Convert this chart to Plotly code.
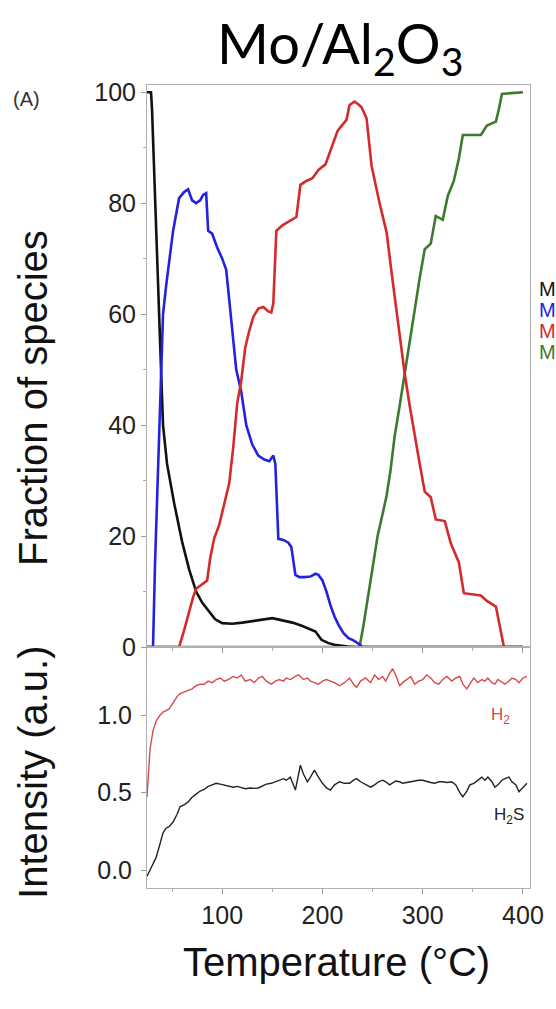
import plotly.graph_objects as go
from plotly.subplots import make_subplots

# ---- species fractions (%) vs temperature (°C) ----
t_black = [25, 29, 30, 33, 36, 39, 41, 45, 52, 60, 67, 74, 80, 87, 93, 100, 110, 120, 130, 140,
           150, 160, 170, 180, 187, 193, 199, 206, 212, 218, 225, 232, 240, 400]
v_black = [100, 100, 97, 80, 66, 50, 40, 33, 26, 19, 14, 10, 8, 6.3, 5, 4.3, 4.2, 4.4, 4.7, 5,
           5.2, 4.8, 4.4, 3.8, 3.3, 2.8, 1.3, 0.7, 0.4, 0.2, 0.1, 0, 0, 0]

t_blue = [25, 31, 33, 36, 39, 41, 44, 47, 51, 57, 62, 66, 70, 74, 78, 81, 84, 86, 90, 95,
          100, 104, 109, 114, 119, 124, 130, 136, 142, 147, 151, 153, 156, 161, 166, 169, 173,
          177, 182, 188, 193, 196, 200, 204, 208, 212, 216, 221, 226, 231, 236, 240, 400]
v_blue = [0, 0, 15, 32, 50, 60, 65, 69, 75, 80.9, 82, 82.5, 80.5, 80, 80.5, 81.5, 81.8, 75, 74.5, 72,
          70, 68, 59, 50, 46, 40, 36.5, 34.5, 33.8, 33.5, 34.5, 33, 19.5, 19.3, 18.8, 18, 13,
          12.6, 12.6, 12.7, 13.2, 13, 12, 10, 7.5, 5.5, 4, 2.5, 1.6, 1.2, 0.6, 0, 0]

t_red = [25, 57, 62, 67, 71, 74, 78, 82, 85, 88, 92, 97, 102, 107, 111, 115, 119, 123, 127, 131,
         136, 141, 146, 149, 151, 154, 160, 165, 170, 174, 178, 184, 190, 196, 203, 207, 211, 215,
         218, 224, 227, 232, 236, 239, 244, 249, 257, 264, 270, 276, 282, 287, 292, 297, 302, 308,
         313, 318, 322, 328, 336, 341, 350, 358, 364, 373, 381, 400]
v_red = [0, 0, 3, 6.5, 9, 10.5, 11, 11.5, 12, 16, 19.6, 22, 25.5, 29.5, 36, 44, 48, 54, 57, 59.5,
         61, 61.3, 60.5, 60.3, 62, 75, 76, 76.5, 77, 77.5, 83.3, 84, 84.5, 86, 87, 89, 91.3, 93,
         93.7, 95, 97.7, 98.3, 97.8, 97.3, 95.3, 86.7, 80, 74.7, 66, 57.5, 49.3, 43.5, 38, 33,
         28, 27, 23, 22.8, 22.7, 18.7, 15.3, 9.7, 9.5, 9.3, 8.3, 7.3, 0, 0]

t_green = [25, 237, 241, 245, 250, 255, 260, 264, 268, 272, 277, 282, 287, 292, 297, 302, 308,
           313, 320, 325, 331, 336, 340, 350, 358, 364, 373, 376, 379, 400]
v_green = [0, 0, 4, 8.7, 14, 20, 24, 27.3, 32, 38, 43.5, 49.3, 55, 61.3, 66.5, 71.7, 72.7,
           77.7, 77, 81.3, 84, 88, 92.3, 92.3, 92.3, 94, 94.7, 97, 99.7, 100]

# ---- gas-phase signals (a.u.) ----
t_gas = [25, 28, 31, 34, 38, 41, 44, 47, 51, 55, 58, 62, 66, 70, 74, 78, 82, 86, 90, 94,
         98, 102, 106, 111, 115, 119, 123, 128, 132, 136, 140, 144, 149, 153, 157, 161, 164,
         168, 173, 176, 178, 181, 185, 188, 192, 196, 200, 204, 208, 212, 217, 222, 227, 231,
         234, 238, 243, 248, 252, 256, 260, 263, 267, 270, 273, 277, 280, 284, 288, 292, 296,
         300, 304, 308, 312, 316, 320, 324, 329, 333, 337, 340, 344, 347, 351, 355, 359, 362,
         365, 369, 372, 375, 379, 382, 386, 389, 393, 396, 400, 404]
v_h2 = [0.47, 0.78, 0.9, 0.96, 1.0, 1.02, 1.03, 1.04, 1.08, 1.12, 1.14, 1.15, 1.16, 1.17, 1.19, 1.2,
        1.2, 1.22, 1.21, 1.23, 1.24, 1.22, 1.23, 1.25, 1.24, 1.26, 1.22, 1.23, 1.21, 1.24, 1.25,
        1.22, 1.2, 1.22, 1.23, 1.22, 1.24, 1.23, 1.25, 1.26, 1.25, 1.23, 1.24, 1.22, 1.21, 1.2,
        1.22, 1.23, 1.22, 1.21, 1.19, 1.21, 1.24, 1.2, 1.18, 1.22, 1.24, 1.21, 1.26, 1.23, 1.25,
        1.22, 1.27, 1.30, 1.26, 1.19, 1.21, 1.23, 1.25, 1.2, 1.22, 1.23, 1.26, 1.24, 1.21, 1.2,
        1.23, 1.25, 1.22, 1.24, 1.25, 1.2, 1.17, 1.2, 1.24, 1.21, 1.23, 1.22, 1.24, 1.21, 1.2,
        1.23, 1.21, 1.2, 1.22, 1.24, 1.23, 1.21, 1.24, 1.25]
v_h2s = [-0.04, 0.0, 0.04, 0.08, 0.17, 0.24, 0.27, 0.28, 0.31, 0.36, 0.41, 0.42, 0.44, 0.47, 0.49,
         0.51, 0.52, 0.54, 0.55, 0.56, 0.555, 0.55, 0.54, 0.535, 0.54, 0.53, 0.525, 0.53, 0.527,
         0.53, 0.54, 0.555, 0.56, 0.57, 0.58, 0.59, 0.58, 0.6, 0.516, 0.6, 0.677, 0.62, 0.57,
         0.6, 0.645, 0.6, 0.56, 0.53, 0.516, 0.55, 0.57, 0.56, 0.56, 0.58, 0.59, 0.57, 0.55, 0.535,
         0.55, 0.57, 0.58, 0.57, 0.55, 0.56, 0.575, 0.57, 0.56, 0.565, 0.57, 0.575, 0.58, 0.58,
         0.57, 0.565, 0.56, 0.57, 0.57, 0.565, 0.57, 0.55, 0.5, 0.473, 0.51, 0.55, 0.56, 0.58,
         0.6, 0.58, 0.6, 0.57, 0.535, 0.55, 0.58, 0.59, 0.6, 0.57, 0.55, 0.505, 0.53, 0.56]

fig = make_subplots(rows=2, cols=1, shared_xaxes=True, vertical_spacing=0,
                    row_heights=[0.6999, 0.3001])

# zero-level overlaps: green under black under blue under red
for t, v, c in [(t_green, v_green, "#3d7a2e"), (t_black, v_black, "#111111"),
                (t_blue, v_blue, "#2222e0"), (t_red, v_red, "#d42a2a")]:
    fig.add_trace(go.Scatter(x=t, y=v, mode="lines", line=dict(color=c, width=2.6),
                             showlegend=False, hoverinfo="skip"), row=1, col=1)

fig.add_trace(go.Scatter(x=t_gas, y=v_h2, mode="lines", line=dict(color="#d84a4a", width=1.4),
                         showlegend=False, hoverinfo="skip"), row=2, col=1)
fig.add_trace(go.Scatter(x=t_gas, y=v_h2s, mode="lines", line=dict(color="#222222", width=1.4),
                         showlegend=False, hoverinfo="skip"), row=2, col=1)

tick_font = dict(family="Liberation Sans, Arial, sans-serif", size=25, color="#222222")
frame = dict(showline=True, linecolor="#b0b0b0", linewidth=1, mirror=True,
             showgrid=False, zeroline=False, ticks="outside", ticklen=5,
             tickcolor="#999999", tickfont=tick_font)

fig.update_xaxes(range=[25, 407], dtick=100, tick0=0, **frame,
                 minor=dict(dtick=50, ticks="outside", ticklen=3, tickcolor="#aaaaaa"))
fig.update_xaxes(showticklabels=False, row=1, col=1)
fig.update_yaxes(range=[0, 101.3], dtick=20, **frame,
                 minor=dict(dtick=10, ticks="outside", ticklen=3, tickcolor="#aaaaaa"),
                 row=1, col=1)
fig.update_yaxes(range=[-0.116, 1.44], tickvals=[0, 0.5, 1.0], tickformat=".1f", **frame,
                 ticklabelstandoff=4, row=2, col=1)

# plot area spans x 147..533 px and y 85..888 px; helpers convert pixels to paper units
def px_x(p):
    return (p - 147) / 386.0


def px_y(p):
    return (888 - p) / 803.0


big = dict(family="Liberation Sans, Arial, sans-serif", size=40, color="#111111")
sans = "Liberation Sans, Arial, sans-serif"
ann = [
    dict(text="Mo/Al<sub>2</sub>O<sub>3</sub>", x=px_x(342), y=px_y(46),
         xanchor="center", yanchor="middle",
         font=dict(family="Lato, Open Sans, sans-serif", size=56, color="#000000")),
    dict(text="(A)", x=px_x(10), y=px_y(99), xanchor="left", yanchor="middle",
         font=dict(family=sans, size=20, color="#333333")),
    dict(text="Fraction of species", x=px_x(32), y=px_y(398), xanchor="center",
         yanchor="middle", textangle=-90, font=big),
    dict(text="Intensity (a.u.)", x=px_x(32), y=px_y(772), xanchor="center",
         yanchor="middle", textangle=-90, font=big),
    dict(text="Temperature (°C)", x=px_x(338), y=px_y(962), xanchor="center",
         yanchor="middle", font=big),
    dict(text="H<sub>2</sub>", x=px_x(503), y=px_y(716), xanchor="center", yanchor="middle",
         font=dict(family=sans, size=17, color="#d84a4a")),
    dict(text="H<sub>2</sub>S", x=px_x(512), y=px_y(816), xanchor="center", yanchor="middle",
         font=dict(family=sans, size=17, color="#222222")),
]

# species key at the right margin (runs past the page edge)
for label, col, yp in [("MoO<sub>3</sub>", "#111111", 290),
                       ("MoO<sub>x</sub>S<sub>y</sub>", "#2222e0", 311),
                       ("MoS<sub>3</sub>", "#d42a2a", 332),
                       ("MoS<sub>2</sub>", "#3d7a2e", 353)]:
    ann.append(dict(text=label, x=px_x(540), y=px_y(yp), xanchor="left", yanchor="middle",
                    font=dict(family=sans, size=20, color=col)))

for a in ann:
    a["xref"] = "paper"
    a["yref"] = "paper"
    a["showarrow"] = False

fig.update_layout(annotations=ann, width=556, height=1009,
                  margin=dict(l=147, r=23, t=85, b=121),
                  plot_bgcolor="white", paper_bgcolor="white")

fig.write_html("out.html")
